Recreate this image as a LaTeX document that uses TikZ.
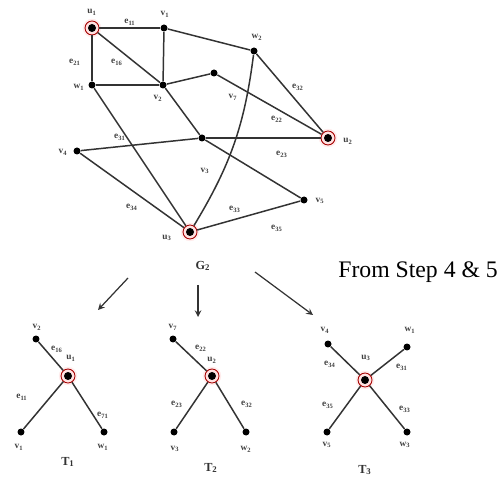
\documentclass[tikz,border=0pt]{standalone}
\usepackage{fontspec}
\setmainfont{Liberation Serif}
\newcommand{\lb}[2]{#1\textsubscript{#2}}
\begin{document}
\begin{tikzpicture}[x=0.02cm,y=-0.02cm,
  dot/.style={circle,fill=black,inner sep=0pt,minimum size=0.14cm},
  hub/.style={circle,inner sep=0pt,minimum size=0.28cm,fill=pink!45,draw=red!65!black,line width=0.5pt,
    preaction={draw=pink!30,line width=2.5pt},
    path picture={\fill[black] (path picture bounding box.center) circle (0.08cm);}},
  edge/.style={black!80,line width=0.85pt},
  lbl/.style={font=\fontsize{5.3}{6}\selectfont\bfseries,text=black!75,inner sep=0pt},
  tname/.style={font=\fontsize{7}{8}\selectfont\bfseries,text=black!80,inner sep=0pt},
  arr/.style={-stealth,black!80,line width=0.7pt}]
\useasboundingbox (0,0) rectangle (500,479);

% graph G2
\node[hub] (u1) at (92,28) {};
\node[dot] (v1) at (164,28) {};
\node[dot] (w1) at (92,85) {};
\node[dot] (v2) at (163,85) {};
\node[dot] (v7) at (214,73) {};
\node[dot] (w2) at (254,51) {};
\node[dot] (v3) at (202,138) {};
\node[hub] (u2) at (328,138) {};
\node[dot] (v4) at (77,151) {};
\node[hub] (u3) at (190,232) {};
\node[dot] (v5) at (304,200) {};

\draw[edge] (u1) -- (v1);
\draw[edge] (u1) -- (w1);
\draw[edge] (u1) -- (v2);
\draw[edge] (v1) -- (v2);
\draw[edge] (w1) -- (v2);
\draw[edge] (v1) -- (w2);
\draw[edge] (v2) -- (v7);
\draw[edge] (v7) -- (u2);
\draw[edge] (w2) -- (u2);
\draw[edge] (v4) -- (v3);
\draw[edge] (v3) -- (u2);
\draw[edge] (v2) -- (v3);
\draw[edge] (v3) -- (v5);
\draw[edge] (w1) -- (u3);
\draw[edge] (v4) -- (u3);
\draw[edge] (w2) to[bend left=12] (u3);
\draw[edge] (u3) -- (v5);

\node[lbl] (lu1) at (92,12) {\lb{u}{1}};
\node[lbl] (le11) at (130,22) {\lb{e}{11}};
\node[lbl] (lv1) at (165,14) {\lb{v}{1}};
\node[lbl] (le21) at (75,62) {\lb{e}{21}};
\node[lbl] (le16) at (117,62) {\lb{e}{16}};
\node[lbl] (lw1) at (79,87) {\lb{w}{1}};
\node[lbl] (lv2) at (158,98) {\lb{v}{2}};
\node[lbl] (lw2) at (257,37) {\lb{w}{2}};
\node[lbl] (lv7) at (233,97) {\lb{v}{7}};
\node[lbl] (le32) at (298,87) {\lb{e}{32}};
\node[lbl] (le22) at (277,119) {\lb{e}{22}};
\node[lbl] (lu2) at (348,141) {\lb{u}{2}};
\node[lbl] (le23) at (282,154) {\lb{e}{23}};
\node[lbl] (le31) at (120,137) {\lb{e}{31}};
\node[lbl] (lv4) at (63,152) {\lb{v}{4}};
\node[lbl] (lv3) at (205,171) {\lb{v}{3}};
\node[lbl] (le34) at (132,207) {\lb{e}{34}};
\node[lbl] (lu3) at (167,238) {\lb{u}{3}};
\node[lbl] (le33) at (235,209) {\lb{e}{33}};
\node[lbl] (lv5) at (320,201) {\lb{v}{5}};
\node[lbl] (le35) at (277,228) {\lb{e}{35}};
\node[tname] (g2) at (203,266) {\lb{G}{2}};

\node[anchor=west,font=\fontsize{13.5}{15}\selectfont,inner sep=0pt] (step) at (338,272) {From Step 4 \& 5};

% arrows to the trees
\coordinate (a1s) at (128,278);
\coordinate (a1e) at (98,310);
\coordinate (a2s) at (198,285);
\coordinate (a2e) at (198,317);
\coordinate (a3s) at (255,272);
\coordinate (a3e) at (313,315);
\draw[arr] (a1s) -- (a1e);
\draw[arr] (a2s) -- (a2e);
\draw[arr] (a3s) -- (a3e);

% T1
\node[hub] (t1u1) at (68,376) {};
\node[dot] (t1v2) at (36,339) {};
\node[dot] (t1v1) at (21,432) {};
\node[dot] (t1w1) at (104,432) {};
\draw[edge] (t1u1) -- (t1v2);
\draw[edge] (t1u1) -- (t1v1);
\draw[edge] (t1u1) -- (t1w1);
\node[lbl] (l1v2) at (37,327) {\lb{v}{2}};
\node[lbl] (l1e16) at (57,349) {\lb{e}{16}};
\node[lbl] (l1u1) at (71,358) {\lb{u}{1}};
\node[lbl] (l1e11) at (22,397) {\lb{e}{11}};
\node[lbl] (l1e71) at (103,415) {\lb{e}{71}};
\node[lbl] (l1v1) at (19,447) {\lb{v}{1}};
\node[lbl] (l1w1) at (103,447) {\lb{w}{1}};
\node[tname] (t1) at (68,462) {\lb{T}{1}};

% T2
\node[hub] (t2u2) at (212,376) {};
\node[dot] (t2v7) at (173,339) {};
\node[dot] (t2v3) at (174,432) {};
\node[dot] (t2w2) at (246,432) {};
\draw[edge] (t2u2) -- (t2v7);
\draw[edge] (t2u2) -- (t2v3);
\draw[edge] (t2u2) -- (t2w2);
\node[lbl] (l2v7) at (173,327) {\lb{v}{7}};
\node[lbl] (l2e22) at (201,348) {\lb{e}{22}};
\node[lbl] (l2u2) at (212,360) {\lb{u}{2}};
\node[lbl] (l2e23) at (177,404) {\lb{e}{23}};
\node[lbl] (l2e32) at (247,404) {\lb{e}{32}};
\node[lbl] (l2v3) at (175,449) {\lb{v}{3}};
\node[lbl] (l2w2) at (246,449) {\lb{w}{2}};
\node[tname] (t2) at (211,468) {\lb{T}{2}};

% T3
\node[hub] (t3u3) at (365,380) {};
\node[dot] (t3v4) at (328,344) {};
\node[dot] (t3w1) at (407,347) {};
\node[dot] (t3v5) at (327,432) {};
\node[dot] (t3w3) at (407,432) {};
\draw[edge] (t3u3) -- (t3v4);
\draw[edge] (t3u3) -- (t3w1);
\draw[edge] (t3u3) -- (t3v5);
\draw[edge] (t3u3) -- (t3w3);
\node[lbl] (l3v4) at (325,330) {\lb{v}{4}};
\node[lbl] (l3w1) at (410,330) {\lb{w}{1}};
\node[lbl] (l3u3) at (366,358) {\lb{u}{3}};
\node[lbl] (l3e34) at (330,364) {\lb{e}{34}};
\node[lbl] (l3e31) at (402,367) {\lb{e}{31}};
\node[lbl] (l3e35) at (328,405) {\lb{e}{35}};
\node[lbl] (l3e33) at (405,409) {\lb{e}{33}};
\node[lbl] (l3v5) at (327,445) {\lb{v}{5}};
\node[lbl] (l3w3) at (405,445) {\lb{w}{3}};
\node[tname] (t3) at (365,470) {\lb{T}{3}};
\end{tikzpicture}
\end{document}
